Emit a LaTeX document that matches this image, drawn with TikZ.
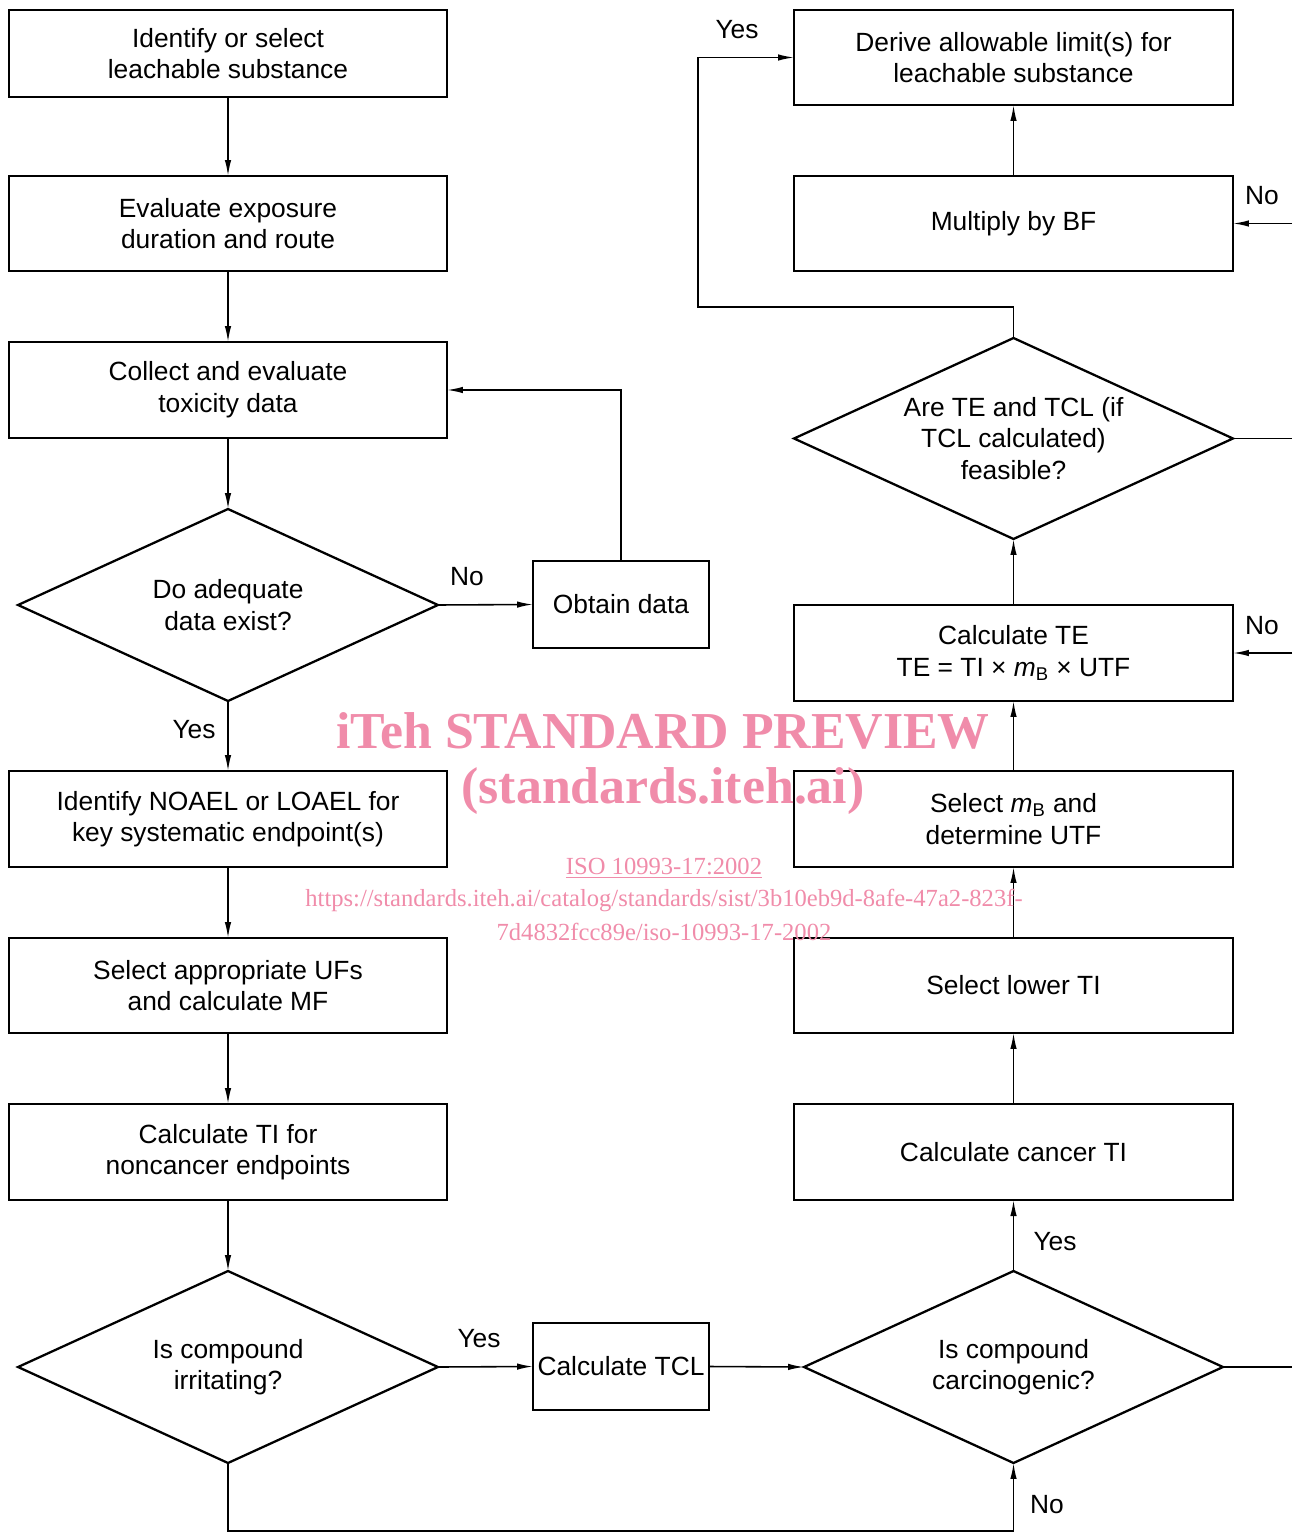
\documentclass[tikz,border=0pt]{standalone}
\usepackage{fontspec}
\setmainfont{Liberation Sans}
\newfontfamily\wmfont{Liberation Serif}
\usetikzlibrary{shapes.geometric,arrows.meta}
\definecolor{wm}{RGB}{240,140,170}
\begin{document}
\begin{tikzpicture}[x=0.02cm,y=-0.02cm,
  txt/.style={font=\fontsize{15}{18}\selectfont},
  box/.style={draw, line width=1.3pt, minimum width=8.76cm, align=center, inner sep=0pt, outer sep=0pt, txt},
  sbox/.style={draw, line width=1.3pt, minimum width=3.52cm, minimum height=1.74cm, align=center, inner sep=0pt, outer sep=0pt, txt},
  dia/.style={draw, diamond, aspect=2.19, line width=1.3pt, align=center, inner sep=0pt, outer sep=0pt, txt},
  arr/.style={line width=0.9pt, -{Latex[length=0.32cm,width=0.13cm]}},
  ln/.style={line width=0.9pt},
  lab/.style={txt},
  wmbig/.style={text=wm, font=\wmfont\bfseries\fontsize{29.5}{32}\selectfont},
  wmsmall/.style={text=wm, font=\wmfont\fontsize{14}{16}\selectfont}]
\useasboundingbox (0,0) rectangle (1292,1533);
% left column
\node[box, minimum height=1.74cm] (b1) at (228,53.5) {Identify or select\\leachable substance};
\node[box, minimum height=1.9cm] (b2) at (228,223.5) {Evaluate exposure\\duration and route};
\node[box, minimum height=1.92cm] (b3) at (228,390) {Collect and evaluate\\toxicity data};
\node[dia, minimum width=8.4cm, minimum height=3.84cm] (d1) at (228,605) {Do adequate\\data exist?};
\node[sbox] (ob) at (621,604.5) {Obtain data};
\node[box, minimum height=1.92cm] (b4) at (228,819) {Identify NOAEL or LOAEL for\\key systematic endpoint(s)};
\node[box, minimum height=1.9cm] (b5) at (228,985.5) {Select appropriate UFs\\and calculate MF};
\node[box, minimum height=1.92cm] (b6) at (228,1152) {Calculate TI for\\noncancer endpoints};
\node[dia, minimum width=8.4cm, minimum height=3.84cm] (d2) at (228,1367) {Is compound\\irritating?};
\node[sbox] (tcl) at (621,1366.5) {Calculate TCL};
% right column
\node[box, minimum width=8.78cm, minimum height=1.9cm] (r1) at (1013.5,57.5) {Derive allowable limit(s) for\\leachable substance};
\node[box, minimum width=8.78cm, minimum height=1.9cm] (r2) at (1013.5,223.5) {Multiply by BF};
\node[dia, aspect=2.18, minimum width=8.78cm, minimum height=4.02cm] (d3) at (1013.5,438.5) {Are TE and TCL (if\\TCL calculated)\\feasible?};
\node[box, minimum width=8.78cm, minimum height=1.92cm] (r3) at (1013.5,653) {Calculate TE\\TE = TI × \textit{m}\textsubscript{B} × UTF};
\node[box, minimum width=8.78cm, minimum height=1.92cm] (r4) at (1013.5,819) {Select \textit{m}\textsubscript{B} and\\determine UTF};
\node[box, minimum width=8.78cm, minimum height=1.9cm] (r5) at (1013.5,985.5) {Select lower TI};
\node[box, minimum width=8.78cm, minimum height=1.92cm] (r6) at (1013.5,1152) {Calculate cancer TI};
\node[dia, minimum width=8.38cm, minimum height=3.84cm] (d4) at (1013.5,1367) {Is compound\\carcinogenic?};
% helper coordinates
\coordinate (loopY) at (698,307);
\coordinate (e1) at (1292,223.5);
\coordinate (e2) at (1292,653);
\coordinate (e3) at (1292,438.5);
\coordinate (e4) at (1292,1367);
\coordinate (bot) at (228,1531);
% connectors
\draw[arr] (b1) -- (b2);
\draw[arr] (b2) -- (b3);
\draw[arr] (b3) -- (d1);
\draw[arr] (d1.east) -- (ob.west);
\draw[arr] (ob.north) |- (b3.east);
\draw[arr] (d1.south) -- (b4.north);
\draw[arr] (b4) -- (b5);
\draw[arr] (b5) -- (b6);
\draw[arr] (b6) -- (d2);
\draw[arr] (d2.east) -- (tcl.west);
\draw[arr] (tcl.east) -- (d4.west);
\draw[arr] (d2.south) -- (bot) -| (d4.south);
\draw[arr] (d4.north) -- (r6.south);
\draw[arr] (r6) -- (r5);
\draw[arr] (r5) -- (r4);
\draw[arr] (r4) -- (r3);
\draw[arr] (r3.north) -- (d3.south);
\draw[arr] (d3.north) |- (loopY) |- (r1.west);
\draw[arr] (r2) -- (r1);
\draw[arr] (e1) -- (r2.east);
\draw[arr] (e2) -- (r3.east);
\draw[ln] (d3.east) -- (e3);
\draw[ln] (d4.east) -- (e4);
% labels
\node[lab] (l1) at (467,577) {No};
\node[lab] (l2) at (194,730) {Yes};
\node[lab] (l3) at (479,1339) {Yes};
\node[lab] (l4) at (1055,1242) {Yes};
\node[lab] (l5) at (1047,1505) {No};
\node[lab] (l6) at (737,30) {Yes};
\node[lab] (l7) at (1262,196) {No};
\node[lab] (l8) at (1262,626) {No};
% watermark
\node[wmbig] (w1) at (663,731) {iTeh STANDARD PREVIEW};
\node[wmbig] (w2) at (663,791) {(standards.iteh.ai)};
\node[wmsmall] (w3) at (664,868) {\underline{ISO 10993-17:2002}};
\node[wmsmall] (w4) at (664,900) {https://standards.iteh.ai/catalog/standards/sist/3b10eb9d-8afe-47a2-823f-};
\node[wmsmall] (w5) at (664,932) {7d4832fcc89e/iso-10993-17-2002};
\end{tikzpicture}
\end{document}
